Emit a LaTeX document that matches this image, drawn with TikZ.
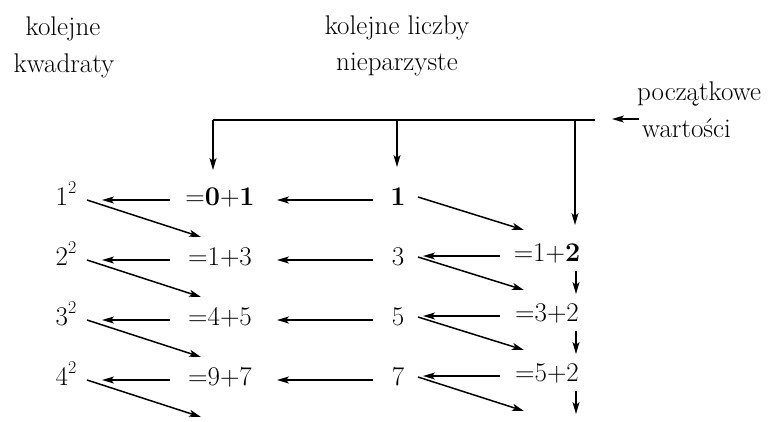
\documentclass[tikz,border=0pt]{standalone}
\usetikzlibrary{arrows.meta}
\newcommand{\sqr}[1]{#1\raisebox{0.42em}{\fontsize{18}{20}\selectfont 2}}
\tikzset{
  txt/.style={inner sep=0pt, anchor=base, font=\fontsize{27}{32}\selectfont},
  lbl/.style={inner sep=0pt, anchor=base west, font=\fontsize{27}{32}\selectfont},
  arr/.style={line width=1.5pt, -{Stealth[length=12pt,width=7pt,inset=3pt]}},
  ln/.style={line width=1.5pt}
}
\begin{document}
\begin{tikzpicture}[x=1pt,y=-1pt]
\useasboundingbox (0,0) rectangle (779,421);
% headers
\node[txt] (h1a) at (63,35) {kolejne};
\node[txt] (h1b) at (64,72) {kwadraty};
\node[txt] (h2a) at (397,34) {kolejne liczby};
\node[txt] (h2b) at (397,70) {nieparzyste};
\node[lbl] (p1) at (637,100) {początkowe};
\node[lbl] (p2) at (642,137) {wartości};
% rows
\node[txt] (s1) at (66,205) {\sqr{1}};
\node[txt] (s2) at (66,265) {\sqr{2}};
\node[txt] (s3) at (66,325) {\sqr{3}};
\node[txt] (s4) at (66,385) {\sqr{4}};
\node[txt] (e1) at (220,205) {=\textbf{0}+\textbf{1}};
\node[txt] (e2) at (220,265) {=1+3};
\node[txt] (e3) at (220,325) {=4+5};
\node[txt] (e4) at (220,385) {=9+7};
\node[txt] (o1) at (398,205) {\textbf{1}};
\node[txt] (o2) at (398,265) {3};
\node[txt] (o3) at (398,325) {5};
\node[txt] (o4) at (398,385) {7};
\node[txt] (r2) at (547,261) {=1+\textbf{2}};
\node[txt] (r3) at (547,321) {=3+2};
\node[txt] (r4) at (547,381) {=5+2};
% top line
\coordinate (J1) at (213,120);
\coordinate (J2) at (397,120);
\coordinate (J3) at (575,120);
\coordinate (JR) at (595,120);
\coordinate (d4) at (201,417);
\coordinate (g4) at (524,411);
\coordinate (v4) at (576,414);
\draw[ln] (J1) -- (JR);
\draw[arr] ([xshift=-3pt,yshift=18pt]p2.base west) -- ([xshift=17pt,yshift=1pt]JR);
\draw[arr] (J1) -- ([xshift=-7pt,yshift=35pt]e1.base);
\draw[arr] (J2) -- ([xshift=-1pt,yshift=38pt]o1.base);
\draw[arr] (J3) -- ([xshift=28pt,yshift=36pt]r2.base);
% vertical short arrows
\draw[arr] ([xshift=29pt,yshift=-10pt]r2.base) -- ([xshift=29pt,yshift=27pt]r3.base);
\draw[arr] ([xshift=29pt,yshift=-10pt]r3.base) -- ([xshift=29pt,yshift=27pt]r4.base);
\draw[arr] ([xshift=29pt,yshift=-10pt]r4.base) -- (v4);
% horizontal arrows
\foreach \i in {1,2,3,4}{
  \draw[arr] ([xshift=-50pt,yshift=5pt]e\i.base) -- ([xshift=36pt,yshift=5pt]s\i.base);
  \draw[arr] ([xshift=-25pt,yshift=5pt]o\i.base) -- ([xshift=57pt,yshift=5pt]e\i.base);
}
\foreach \i in {2,3,4}{
  \draw[arr] ([xshift=-47pt,yshift=5pt]r\i.base) -- ([xshift=25pt,yshift=9pt]o\i.base);
}
% diagonals
\draw[arr] ([xshift=21pt,yshift=5pt]s1.base) -- ([xshift=-19pt,yshift=28pt]e2.base);
\draw[arr] ([xshift=21pt,yshift=5pt]s2.base) -- ([xshift=-19pt,yshift=28pt]e3.base);
\draw[arr] ([xshift=21pt,yshift=5pt]s3.base) -- ([xshift=-19pt,yshift=28pt]e4.base);
\draw[arr] ([xshift=21pt,yshift=5pt]s4.base) -- (d4);
\draw[arr] ([xshift=20pt,yshift=8pt]o1.base) -- ([xshift=-23pt,yshift=31pt]r2.base);
\draw[arr] ([xshift=20pt,yshift=8pt]o2.base) -- ([xshift=-23pt,yshift=31pt]r3.base);
\draw[arr] ([xshift=20pt,yshift=8pt]o3.base) -- ([xshift=-23pt,yshift=31pt]r4.base);
\draw[arr] ([xshift=20pt,yshift=8pt]o4.base) -- (g4);
\end{tikzpicture}
\end{document}
